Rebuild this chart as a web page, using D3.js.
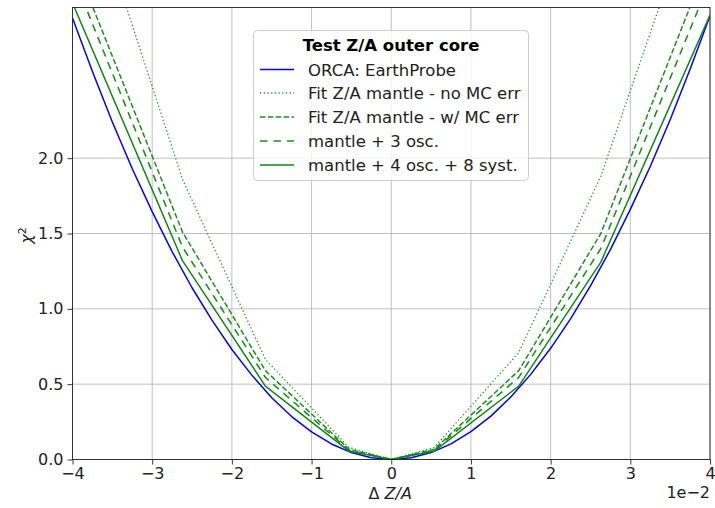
<!DOCTYPE html>
<html>
<head>
<meta charset="utf-8">
<script src="https://cdn.jsdelivr.net/npm/d3@7"></script>
<style>
  html, body { margin: 0; padding: 0; background: #fff; }
  svg { display: block; font-family: "DejaVu Sans", sans-serif; }
</style>
</head>
<body>
<svg id="chart" width="715" height="508"></svg>
<script>
// ---- data (x in units of 1e-2) ----
const xTicks = [-4, -3, -2, -1, 0, 1, 2, 3, 4];
const yTicks = [0.0, 0.5, 1.0, 1.5, 2.0];

const orcaX = [-4, -3.75, -3.5, -3.25, -3, -2.75, -2.5, -2.25, -2, -1.75, -1.5, -1.25, -1, -0.75, -0.5, -0.25, 0,
               0.25, 0.5, 0.75, 1, 1.25, 1.5, 1.75, 2, 2.25, 2.5, 2.75, 3, 3.25, 3.5, 3.75, 4];
const orcaY = [2.93, 2.575, 2.24, 1.93, 1.645, 1.38, 1.14, 0.925, 0.73, 0.56, 0.41, 0.285, 0.183, 0.103, 0.046, 0.011, 0,
               0.012, 0.046, 0.104, 0.185, 0.288, 0.415, 0.565, 0.738, 0.933, 1.152, 1.393, 1.66, 1.945, 2.255, 2.59, 2.945];

const fitX = [-4, -2.62, -1.58, -0.53, 0, 0.54, 1.6, 2.63, 4];
const noMcErr  = [4.10, 1.86, 0.665, 0.080, 0, 0.080, 0.71, 1.88, 3.98];
const wMcErr   = [3.34, 1.51, 0.590, 0.068, 0, 0.068, 0.59, 1.50, 3.34];
const osc3     = [3.22, 1.41, 0.545, 0.062, 0, 0.062, 0.545, 1.40, 3.18];
const osc4syst = [3.03, 1.32, 0.487, 0.056, 0, 0.056, 0.487, 1.31, 2.95];

const seriesNames = ["ORCA: EarthProbe", "Fit Z/A mantle - no MC err", "Fit Z/A mantle - w/ MC err",
                     "mantle + 3 osc.", "mantle + 4 osc. + 8 syst."];
const legendTitle = "Test Z/A outer core";

// ---- layout ----
const svg = d3.select("#chart");
const L = 72.5, R = 710, T = 7.5, B = 459.5;
const x = d3.scaleLinear().domain([-4, 4]).range([L, R]);
const y = d3.scaleLinear().domain([0, 3.0]).range([B, T]);

const gridColor = "#b0b0b0";
// grid
svg.append("g").selectAll("line").data(xTicks).join("line")
  .attr("x1", d => x(d)).attr("x2", d => x(d)).attr("y1", T).attr("y2", B)
  .attr("stroke", gridColor).attr("stroke-width", 0.8);
svg.append("g").selectAll("line").data(yTicks).join("line")
  .attr("y1", d => y(d)).attr("y2", d => y(d)).attr("x1", L).attr("x2", R)
  .attr("stroke", gridColor).attr("stroke-width", 0.8);

// clip
svg.append("clipPath").attr("id", "clip").append("rect")
  .attr("x", L).attr("y", T).attr("width", R - L).attr("height", B - T);

const line = d3.line().x(d => x(d[0])).y(d => y(d[1]));
const plotG = svg.append("g").attr("clip-path", "url(#clip)");

const styles = [
  { color: "#0000ff", dash: null, w: 1.5 },
  { color: "#1e9a1e", dash: "1.3,2.4", w: 1.3 },
  { color: "#1e8f1e", dash: "5.5,2.4", w: 1.5 },
  { color: "#1e8f1e", dash: "7.5,6", w: 1.6 },
  { color: "#118811", dash: null, w: 1.5 }
];
const data = [
  d3.zip(orcaX, orcaY),
  d3.zip(fitX, noMcErr),
  d3.zip(fitX, wMcErr),
  d3.zip(fitX, osc3),
  d3.zip(fitX, osc4syst)
];
data.forEach((d, i) => {
  plotG.append("path").datum(d).attr("d", line)
    .attr("fill", "none").attr("stroke", styles[i].color)
    .attr("stroke-width", styles[i].w)
    .attr("stroke-dasharray", styles[i].dash)
    .attr("stroke-linejoin", "round");
});

// axes
const fmtX = d => (d < 0 ? "\u2212" + Math.abs(d) : String(d));
const xAxis = d3.axisBottom(x).tickValues(xTicks).tickFormat(fmtX).tickSize(5).tickPadding(3);
const yAxis = d3.axisLeft(y).tickValues(yTicks).tickFormat(d3.format(".1f")).tickSize(5).tickPadding(4);
const gx = svg.append("g").attr("transform", `translate(0,${B})`).call(xAxis);
const gy = svg.append("g").attr("transform", `translate(${L},0)`).call(yAxis);
[gx, gy].forEach(g => {
  g.select(".domain").remove();
  g.selectAll(".tick line").attr("stroke", "#222").attr("stroke-width", 0.9);
  g.selectAll(".tick text").attr("fill", "#222").style("font-size", "16px")
    .style("font-family", "'DejaVu Sans', sans-serif");
});

// frame
svg.append("rect").attr("x", L).attr("y", T).attr("width", R - L).attr("height", B - T)
  .attr("fill", "none").attr("stroke", "#222").attr("stroke-width", 0.9);

// axis labels
const xl = svg.append("text").attr("x", (L + R) / 2 - 1).attr("y", 499)
  .attr("text-anchor", "middle").attr("fill", "#222").style("font-size", "16px");
xl.append("tspan").text("\u0394 ");
xl.append("tspan").attr("font-style", "italic").text("Z/A");

const yl = svg.append("text").attr("transform", `translate(32,${(T + B) / 2 + 2}) rotate(-90)`)
  .attr("text-anchor", "middle").attr("fill", "#222").style("font-size", "16px");
yl.append("tspan").attr("font-style", "italic").text("\u03c7");
yl.append("tspan").attr("dy", -6).style("font-size", "11px").text("2");

svg.append("text").attr("x", R).attr("y", 498).attr("text-anchor", "end")
  .attr("fill", "#222").style("font-size", "16px").text("1e\u22122");

// legend
const lg = svg.append("g");
lg.append("rect").attr("x", 253.5).attr("y", 30.5).attr("width", 275).attr("height", 150)
  .attr("rx", 4).attr("fill", "white").attr("fill-opacity", 0.8)
  .attr("stroke", "#cccccc").attr("stroke-width", 1);
lg.append("text").attr("x", 391).attr("y", 51).attr("text-anchor", "middle")
  .attr("font-weight", "bold").attr("fill", "#000").style("font-size", "16.5px").text(legendTitle);
const rowY = [69.5, 93, 117, 141, 165];
seriesNames.forEach((name, i) => {
  lg.append("line").attr("x1", 260).attr("x2", 294).attr("y1", rowY[i]).attr("y2", rowY[i])
    .attr("stroke", styles[i].color).attr("stroke-width", styles[i].w)
    .attr("stroke-dasharray", styles[i].dash);
  lg.append("text").attr("x", 308).attr("y", rowY[i] + 6).attr("fill", "#222")
    .style("font-size", "16.5px").text(name);
});
</script>
</body>
</html>
